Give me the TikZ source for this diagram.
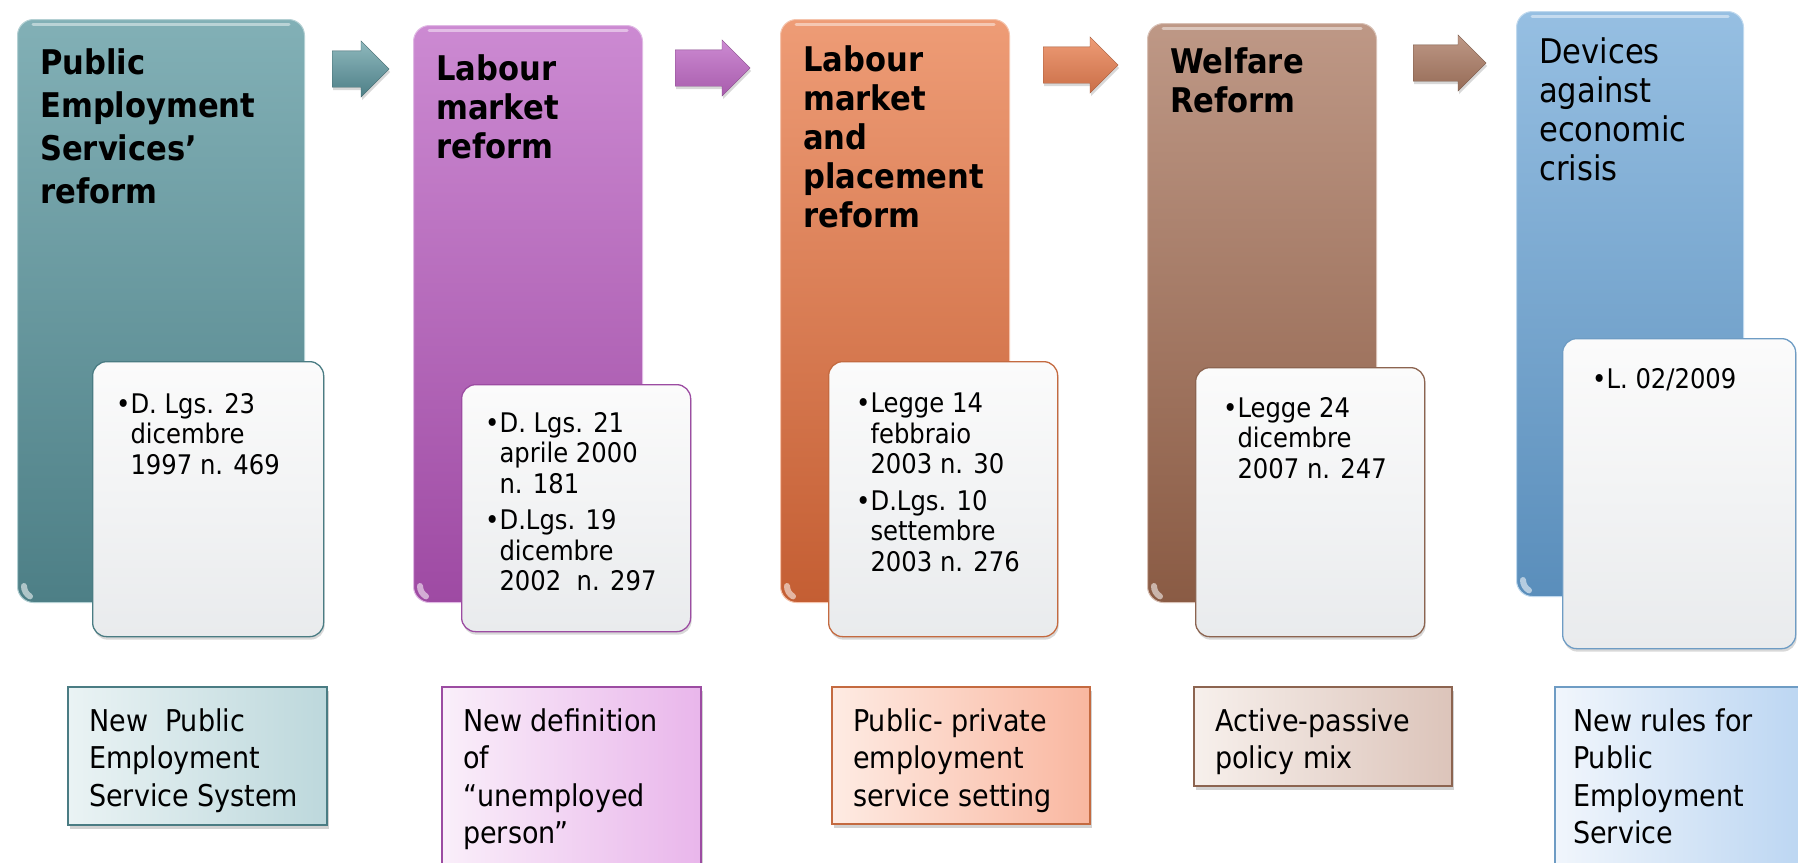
\documentclass[tikz,border=0pt]{standalone}
\usepackage{fontspec}
\setmainfont{DejaVu Sans Condensed}
\usetikzlibrary{shapes.arrows,shadows}

\definecolor{tealT}{HTML}{82B0B6}
\definecolor{tealB}{HTML}{4D7F86}
\definecolor{tealD}{HTML}{4A7C83}
\definecolor{tealL}{HTML}{EAF3F4}
\definecolor{tealR}{HTML}{BDD8DC}
\definecolor{purT}{HTML}{CC8AD2}
\definecolor{purB}{HTML}{9E4AA3}
\definecolor{purD}{HTML}{9C4CA2}
\definecolor{purL}{HTML}{FAEFFA}
\definecolor{purR}{HTML}{E9B6EB}
\definecolor{orT}{HTML}{EE9C76}
\definecolor{orB}{HTML}{C45E33}
\definecolor{orD}{HTML}{C46A40}
\definecolor{orL}{HTML}{FEEBE3}
\definecolor{orR}{HTML}{F9B7A0}
\definecolor{brT}{HTML}{BE9886}
\definecolor{brB}{HTML}{8A5B44}
\definecolor{brD}{HTML}{8C6450}
\definecolor{brL}{HTML}{F7F0EC}
\definecolor{brR}{HTML}{DCC4BA}
\definecolor{blT}{HTML}{96BFE2}
\definecolor{blB}{HTML}{5A8EBB}
\definecolor{blD}{HTML}{6E9CC4}
\definecolor{blL}{HTML}{F1F6FC}
\definecolor{blR}{HTML}{B7D3F1}
\definecolor{inT}{HTML}{FBFBFB}
\definecolor{inB}{HTML}{E9EBED}

\newcommand\bul{\textbullet}
\newcommand\ind{\hphantom{\textbullet}}

\tikzset{
  bigbox/.style 2 args={anchor=north west, inner sep=0pt, rounded corners=16pt,
    top color=#1, bottom color=#2, draw=#1!60!white, line width=1pt},
  innerbox/.style={anchor=north west, inner sep=0pt, rounded corners=14pt,
    top color=inT, bottom color=inB, draw=#1, line width=1.3pt,
    drop shadow={opacity=0.3, shadow xshift=1pt, shadow yshift=-3pt}},
  lowbox/.style={anchor=north west, inner sep=0pt, line width=1.5pt,
    drop shadow={opacity=0.35, shadow xshift=2pt, shadow yshift=-4pt}},
  ttl/.style={anchor=north west, inner sep=0pt, align=left,
    font=\fontsize{34}{39}\selectfont\bfseries},
  bultext/.style={anchor=north west, inner sep=0pt, align=left,
    font=\fontsize{27}{30.5}\selectfont},
  lowtext/.style={anchor=north west, inner sep=0pt, align=left,
    font=\fontsize{30}{37.5}\selectfont},
  blockarrow/.style 2 args={single arrow, anchor=tail, inner xsep=0pt, inner ysep=18pt,
    single arrow head extend=10pt, top color=#1, bottom color=#2,
    draw=#2!80!black, line width=0.3pt,
    drop shadow={opacity=0.3, shadow xshift=1pt, shadow yshift=-3pt}},
  gloss/.style={white, opacity=0.45, line width=3pt, line cap=round},
  curl/.style={white, opacity=0.55, line width=6pt, line cap=round}
}

\begin{document}
\begin{tikzpicture}[x=1pt,y=-1pt]
\clip (0,0) rectangle (1798,862);
\fill[white] (0,0) rectangle (1798,862);

% ---- big boxes ----
\node[bigbox={tealT}{tealB}, minimum width=287pt, minimum height=583pt] (b1) at (17,19) {};
\node[bigbox={purT}{purB}, minimum width=229pt, minimum height=577pt] (b2) at (413,25) {};
\node[bigbox={orT}{orB}, minimum width=229pt, minimum height=583pt] (b3) at (780,19) {};
\node[bigbox={brT}{brB}, minimum width=229pt, minimum height=579pt] (b4) at (1147,23) {};
\node[bigbox={blT}{blB}, minimum width=227pt, minimum height=585pt] (b5) at (1516,11) {};

\foreach \b in {b1,b2,b3,b4,b5}{
  \draw[gloss] ([xshift=16pt,yshift=-5pt]\b.north west) -- ([xshift=-16pt,yshift=-5pt]\b.north east);
  \draw[curl] ([xshift=7pt,yshift=17pt]\b.south west) arc[start angle=180, end angle=240, radius=12pt];
}

% ---- titles ----
\node[ttl, font=\fontsize{34}{43}\selectfont\bfseries] (t1) at (40,48) {Public\\Employment\\Services’\\reform};
\node[ttl] (t2) at (436,54) {Labour\\market\\reform};
\node[ttl] (t3) at (803,45) {Labour\\market\\and\\placement\\reform};
\node[ttl] (t4) at (1170,47) {Welfare\\Reform};
\node[ttl, font=\fontsize{34}{39}\selectfont] (t5) at (1539,37) {Devices\\against\\economic\\crisis};

% ---- inner boxes ----
\node[innerbox=tealD, minimum width=231pt, minimum height=275pt] (i1) at (92,361) {};
\node[innerbox=purD, minimum width=229pt, minimum height=247pt] (i2) at (461,384) {};
\node[innerbox=orD, minimum width=229pt, minimum height=275pt] (i3) at (828,361) {};
\node[innerbox=brD, minimum width=229pt, minimum height=269pt] (i4) at (1195,367) {};
\node[innerbox=blD, minimum width=233pt, minimum height=310pt] (i5) at (1562,338) {};

\node[bultext] (l1) at ([xshift=24pt,yshift=-32pt]i1.north west)
  {\bul D. Lgs. 23\\\ind dicembre\\\ind 1997 n. 469};
\node[bultext] (l2) at ([xshift=24pt,yshift=-28pt]i2.north west)
  {\bul D. Lgs. 21\\\ind aprile 2000\\\ind n. 181\\[6pt]\bul D.Lgs. 19\\\ind dicembre\\\ind 2002\ \ n. 297};
\node[bultext] (l3) at ([xshift=28pt,yshift=-32pt]i3.north west)
  {\bul Legge 14\\\ind febbraio\\\ind 2003 n. 30\\[6pt]\bul D.Lgs. 10\\\ind settembre\\\ind 2003 n. 276};
\node[bultext] (l4) at ([xshift=28pt,yshift=-30pt]i4.north west)
  {\bul Legge 24\\\ind dicembre\\\ind 2007 n. 247};
\node[bultext] (l5) at ([xshift=30pt,yshift=-30pt]i5.north west)
  {\bul L. 02/2009};

% ---- arrows ----
\node[blockarrow={tealT!90!white}{tealB}, minimum height=57pt] (a1) at (332,69) {};
\node[blockarrow={purT}{purB!90!white}, minimum height=75pt] (a2) at (675,68) {};
\node[blockarrow={orT}{orB!90!white}, minimum height=75pt] (a3) at (1043,65) {};
\node[blockarrow={brT}{brB!90!white}, minimum height=73pt] (a4) at (1413,63) {};

% ---- bottom boxes ----
\node[lowbox, left color=tealL, right color=tealR, draw=tealD, minimum width=259pt, minimum height=138pt] (n1) at (67,686) {};
\node[lowbox, left color=purL, right color=purR, draw=purD, minimum width=259pt, minimum height=200pt] (n2) at (441,686) {};
\node[lowbox, left color=orL, right color=orR, draw=orD, minimum width=258pt, minimum height=137pt] (n3) at (831,686) {};
\node[lowbox, left color=brL, right color=brR, draw=brD, minimum width=258pt, minimum height=99pt] (n4) at (1193,686) {};
\node[lowbox, left color=blL, right color=blR, draw=blD, minimum width=270pt, minimum height=200pt] (n5) at (1554,686) {};

\node[lowtext] (m1) at ([xshift=22pt,yshift=-22pt]n1.north west) {New\ \ Public\\Employment\\Service System};
\node[lowtext] (m2) at ([xshift=22pt,yshift=-22pt]n2.north west) {New definition\\of\\“unemployed\\person”};
\node[lowtext] (m3) at ([xshift=22pt,yshift=-22pt]n3.north west) {Public- private\\employment\\service setting};
\node[lowtext] (m4) at ([xshift=22pt,yshift=-22pt]n4.north west) {Active-passive\\policy mix};
\node[lowtext] (m5) at ([xshift=19pt,yshift=-22pt]n5.north west) {New rules for\\Public\\Employment\\Service};
\end{tikzpicture}
\end{document}
